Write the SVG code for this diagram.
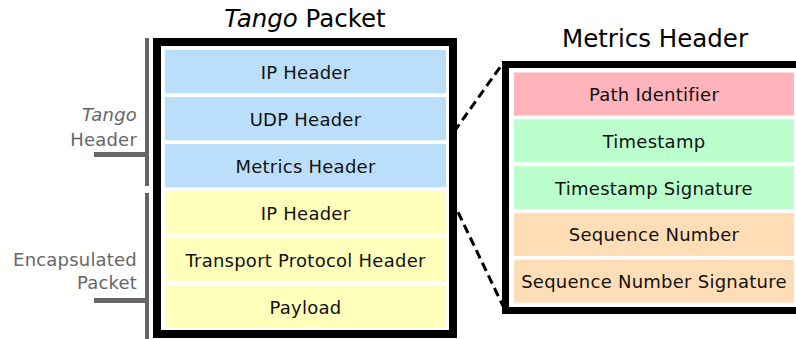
<svg xmlns="http://www.w3.org/2000/svg" width="796" height="339" viewBox="0 0 796 339">
  <style>
    text { font-family: "DejaVu Sans", "Liberation Sans", sans-serif; }
    .title { font-size: 24.5px; fill: #000; text-anchor: middle; }
    .cell-text { font-size: 18px; fill: #111; text-anchor: middle; letter-spacing: 0.25px; }
    .side { font-size: 18px; fill: #666; text-anchor: end; letter-spacing: 0.2px; }
    .frame { fill: #fff; stroke: #000; }
    .blue { fill: #bbdffb; }
    .yellow { fill: #ffffbb; }
    .pink { fill: #ffb3ba; }
    .green { fill: #bbffcc; }
    .peach { fill: #ffddb6; }
    .bracket { fill: #666; }
    .zoom-line { stroke: #000; stroke-width: 3; stroke-dasharray: 9 5; fill: none; }
  </style>

  <!-- Titles -->
  <text class="title" x="305" y="27"><tspan font-style="italic">Tango</tspan> Packet</text>
  <text class="title" x="655" y="47">Metrics Header</text>

  <!-- Side labels with brackets -->
  <g id="tango-header-label">
    <rect class="bracket" x="145" y="38" width="4" height="148"/>
    <rect class="bracket" x="94" y="152" width="55" height="5"/>
    <text class="side" x="137" y="121" font-style="italic">Tango</text>
    <text class="side" x="137" y="146">Header</text>
  </g>
  <g id="encapsulated-label">
    <rect class="bracket" x="145" y="193" width="4" height="146"/>
    <rect class="bracket" x="94" y="298" width="55" height="5"/>
    <text class="side" x="137" y="266">Encapsulated</text>
    <text class="side" x="137" y="289">Packet</text>
  </g>

  <!-- Connectors: zoom-in lines from the metrics header to its breakdown -->
  <g id="connectors">
    <line class="zoom-line" x1="446" y1="143" x2="503" y2="63"/>
    <line class="zoom-line" x1="446" y1="187" x2="503" y2="306"/>
  </g>

  <!-- Tango packet -->
  <g id="tango-packet">
    <rect class="frame" x="157" y="42" width="296" height="292" stroke-width="8"/>
    <g id="outer-ip-header">
      <rect class="blue" x="165" y="50" width="281" height="43.3"/>
      <text class="cell-text" x="305.5" y="79">IP Header</text>
    </g>
    <g id="udp-header">
      <rect class="blue" x="165" y="97" width="281" height="43.3"/>
      <text class="cell-text" x="305.5" y="126">UDP Header</text>
    </g>
    <g id="metrics-header">
      <rect class="blue" x="165" y="144" width="281" height="43.3"/>
      <text class="cell-text" x="305.5" y="173">Metrics Header</text>
    </g>
    <g id="inner-ip-header">
      <rect class="yellow" x="165" y="191" width="281" height="43.3"/>
      <text class="cell-text" x="305.5" y="220">IP Header</text>
    </g>
    <g id="transport-header">
      <rect class="yellow" x="165" y="238" width="281" height="43.3"/>
      <text class="cell-text" x="305.5" y="267">Transport Protocol Header</text>
    </g>
    <g id="payload">
      <rect class="yellow" x="165" y="285" width="281" height="43"/>
      <text class="cell-text" x="305.5" y="314">Payload</text>
    </g>
  </g>

  <!-- Metrics header breakdown -->
  <g id="metrics-breakdown">
    <rect class="frame" x="505.5" y="64.5" width="310" height="246" stroke-width="7"/>
    <g id="path-identifier">
      <rect class="pink" x="514" y="72.5" width="280" height="43"/>
      <text class="cell-text" x="654" y="101">Path Identifier</text>
    </g>
    <g id="timestamp">
      <rect class="green" x="514" y="119.3" width="280" height="43"/>
      <text class="cell-text" x="654" y="148">Timestamp</text>
    </g>
    <g id="timestamp-signature">
      <rect class="green" x="514" y="166.1" width="280" height="43"/>
      <text class="cell-text" x="654" y="194.6">Timestamp Signature</text>
    </g>
    <g id="sequence-number">
      <rect class="peach" x="514" y="212.9" width="280" height="43"/>
      <text class="cell-text" x="654" y="241.4">Sequence Number</text>
    </g>
    <g id="sequence-number-signature">
      <rect class="peach" x="514" y="259.7" width="280" height="43"/>
      <text class="cell-text" x="654" y="288.2">Sequence Number Signature</text>
    </g>
  </g>
</svg>
